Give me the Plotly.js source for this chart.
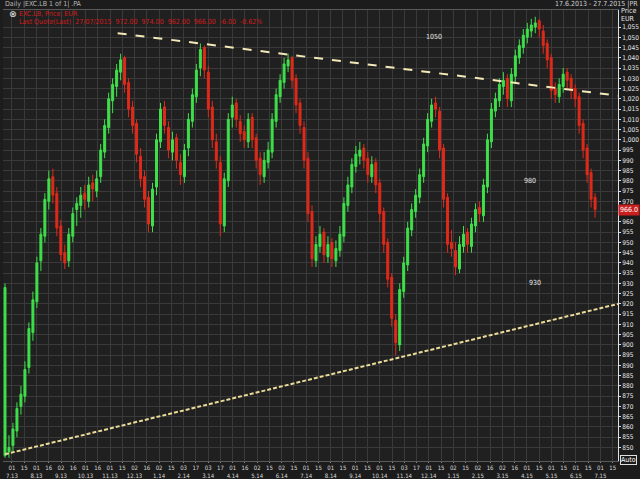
<!DOCTYPE html>
<html>
<head>
<meta charset="utf-8">
<script src="https://cdn.plot.ly/plotly-3.0.1.min.js"></script>
<style>html,body{margin:0;padding:0;background:#1d1d1d;}#chart{width:640px;height:479px;}</style>
</head>
<body>
<div id="chart"></div>
<script>
// OHLC values (EUR), one bar per period
const openP  = [846,848,851,858,870,875,889,906,921,941,953,970,982,974,958,945,941,953,966,968,974,970,979,975,982,994,1006,1019,1026,1033,1040,1028,1016,1008,992,982,972,958,977,999,1016,1006,994,1001,989,982,996,1009,1021,1035,1045,1033,1016,999,989,958,980,1011,1018,1009,1004,999,1011,1001,991,982,989,994,1009,1021,1028,1036,1040,1030,1018,1006,991,965,941,948,955,943,950,941,946,953,968,977,987,992,996,991,982,989,979,965,950,933,912,900,926,939,956,965,972,982,997,1009,1018,1014,996,972,950,946,937,948,955,948,958,967,963,977,999,1014,1019,1026,1030,1019,1031,1040,1045,1050,1053,1055,1058,1053,1047,1040,1025,1021,1026,1033,1030,1025,1021,1008,996,984,972];
const highP  = [930,856,862,872,880,892,911,926,943,957,974,985,986,977,961,949,957,967,972,977,978,982,983,985,998,1010,1023,1030,1037,1042,1041,1030,1019,1010,996,985,975,979,1003,1018,1019,1009,1004,1003,993,998,1013,1025,1037,1047,1046,1036,1019,1003,992,984,1013,1021,1020,1012,1007,1013,1013,1003,994,994,999,1013,1025,1032,1040,1042,1041,1032,1020,1009,994,968,953,958,957,953,952,951,958,972,982,991,997,999,998,994,992,991,981,967,952,935,915,930,943,960,969,976,986,1001,1013,1020,1021,1016,998,974,956,950,953,958,957,962,969,970,981,1003,1018,1023,1030,1033,1032,1035,1044,1049,1054,1057,1059,1060,1059,1056,1049,1042,1028,1030,1035,1035,1032,1027,1023,1010,998,986,974];
const lowP   = [845,845,848,855,866,872,886,902,918,936,950,966,969,953,941,937,938,950,958,962,966,967,970,972,979,991,1003,1013,1021,1029,1023,1011,1003,989,977,967,955,955,973,996,1003,991,990,986,978,979,992,1006,1018,1031,1030,1011,996,986,953,955,977,1006,1006,999,996,996,996,986,978,979,986,991,1006,1018,1025,1033,1025,1013,1003,986,960,938,938,945,940,940,938,938,943,950,965,974,984,988,986,979,979,974,960,945,928,909,895,897,923,936,953,962,969,979,994,1006,1011,991,967,945,943,934,935,945,945,945,955,960,960,974,996,1011,1016,1022,1016,1016,1028,1037,1042,1047,1050,1052,1050,1042,1035,1020,1018,1018,1023,1025,1020,1016,1003,991,979,967,962];
const closeP = [928,850,859,869,876,888,908,922,940,954,971,981,973,957,944,940,954,964,969,973,971,978,976,981,995,1007,1020,1027,1034,1039,1027,1015,1007,993,981,971,959,976,1000,1015,1007,995,1000,990,983,995,1010,1022,1034,1044,1034,1015,1000,990,959,981,1010,1017,1010,1003,1000,1010,1000,990,983,990,995,1010,1022,1029,1037,1039,1029,1017,1007,990,964,942,949,954,944,949,942,947,954,969,978,988,993,995,990,983,988,978,964,949,932,913,901,927,940,957,966,973,983,998,1010,1017,1015,995,971,949,947,938,949,954,949,959,966,964,978,1000,1015,1020,1027,1029,1020,1032,1041,1046,1051,1054,1056,1057,1054,1046,1039,1024,1022,1027,1032,1029,1024,1020,1007,995,983,971,966];

// trend lines (bar index, price)
const upperTrendX = [28.25, 153.75];
const upperTrendY = [1052, 1021.5];
const lowerTrendX = [0, 153.75];
const lowerTrendY = [846.7, 920];

// level labels written in the chart
const levelLabels = ['1050', '980', '930'];
const levelX = [107.5, 131.75, 133];
const levelY = [1050, 980, 930];

// x-axis labels
const monthLabels = ['7.13','8.13','9.13','10.13','11.13','12.13','1.14','2.14','3.14','4.14','5.14','6.14','7.14','8.14','9.14','10.14','11.14','12.14','1.15','2.15','3.15','4.15','5.15','6.15','7.15'];
const dayStart = ['01','01','02','01','01','02','02','03','03','01','02','02','01','01','01','01','03','01','02','02','02','01','01','01','01'];
const dayMid   = ['15','16','16','16','15','16','15','17','17','16','15','15','15','15','15','15','17','15','15','16','16','15','15','15','15'];

const lastPrice = 966;

const xIdx = closeP.map((_, i) => i);
const FONT = 'Liberation Sans Narrow, DejaVu Sans Condensed, Liberation Sans, Arial';

// build tick positions
const m0 = 1.75, mStep = 6.15;
const tickvals = [], ticktext = [];
monthLabels.forEach((m, k) => {
  tickvals.push(m0 + k * mStep);
  ticktext.push(dayStart[k] + '<br>' + m);
  tickvals.push(m0 + k * mStep + mStep / 2);
  ticktext.push(dayMid[k]);
});
const ytv = [];
for (let v = 850; v <= 1055; v += 5) ytv.push(v);
// the 965 label sits under the red last-price box
const ytt = ytv.map(v => v === 965 ? '' : (v >= 1000 ? (Math.floor(v/1000) + ',' + String(v % 1000).padStart(3,'0')) : String(v)));

const traces = [
  {
    type: 'candlestick', x: xIdx, open: openP, high: highP, low: lowP, close: closeP,
    increasing: {line: {color: '#3fe04b', width: 1}, fillcolor: '#3fe04b'},
    decreasing: {line: {color: '#e02a1a', width: 1}, fillcolor: '#e02a1a'},
    whiskerwidth: 0, showlegend: false, hoverinfo: 'skip'
  },
  {
    type: 'scatter', mode: 'lines', x: upperTrendX, y: upperTrendY,
    line: {color: '#f3e9b8', width: 2, dash: 'dash'}, showlegend: false, hoverinfo: 'skip'
  },
  {
    type: 'scatter', mode: 'lines', x: lowerTrendX, y: lowerTrendY,
    line: {color: '#eadb98', width: 2, dash: '4px,2px'}, showlegend: false, hoverinfo: 'skip'
  }
];

const annotations = levelLabels.map((t, i) => ({
  x: levelX[i], y: levelY[i], xref: 'x', yref: 'y', text: t, showarrow: false,
  font: {color: '#e6e6e6', size: 7, family: FONT}
}));
annotations.push(
  {xref: 'paper', yref: 'paper', x: 0, y: 1.013, xanchor: 'left', yanchor: 'middle', showarrow: false,
   text: 'Daily |EXC.LB 1 of 1| .PA', font: {color: '#b8b8b8', size: 7, family: FONT}},
  {xref: 'paper', yref: 'paper', x: 1.035, y: 1.013, xanchor: 'right', yanchor: 'middle', showarrow: false,
   text: '17.6.2013 - 27.7.2015 |PR', font: {color: '#d0d0d0', size: 7, family: FONT}},
  {xref: 'paper', yref: 'paper', x: 1.002, y: 0.998, xanchor: 'left', yanchor: 'middle', showarrow: false,
   text: 'Price', font: {color: '#e6e6e6', size: 7, family: FONT}},
  {xref: 'paper', yref: 'paper', x: 1.002, y: 0.980, xanchor: 'left', yanchor: 'middle', showarrow: false,
   text: 'EUR', font: {color: '#e6e6e6', size: 7, family: FONT}},
  {xref: 'paper', yref: 'y', x: 1.0, y: lastPrice, xanchor: 'left', yanchor: 'middle', showarrow: false,
   text: '966.0', bgcolor: '#c81e1e', borderpad: 1, font: {color: '#ffffff', size: 7, family: FONT}},
  {xref: 'paper', yref: 'paper', x: 1.003, y: 0.003, xanchor: 'left', yanchor: 'middle', showarrow: false,
   text: 'Auto', bordercolor: '#e0e0e0', borderwidth: 1, borderpad: 0, font: {color: '#ffffff', size: 7, family: FONT}},
  {xref: 'paper', yref: 'paper', x: 0.006, y: 0.991, xanchor: 'left', yanchor: 'middle', showarrow: false,
   text: '⊗', font: {color: '#e8e8e8', size: 9, family: 'DejaVu Sans'}},
  {xref: 'paper', yref: 'paper', x: 0.022, y: 0.991, xanchor: 'left', yanchor: 'middle', showarrow: false,
   text: 'EXC.LB, Price, EUR', font: {color: '#d01c1c', size: 7, family: FONT}},
  {xref: 'paper', yref: 'paper', x: 0.022, y: 0.973, xanchor: 'left', yanchor: 'middle', showarrow: false,
   text: 'Last Quote(Last)  27/07/2015  972.00  974.00  962.00  966.00  -6.00  -0.62%',
   font: {color: '#d01c1c', size: 7, family: FONT}}
);

const layout = {
  width: 640, height: 479,
  margin: {l: 3, r: 22, t: 10, b: 18, pad: 0},
  paper_bgcolor: '#1c1c1c', plot_bgcolor: '#202020',
  showlegend: false,
  xaxis: {
    range: [-0.5, 153.75], rangeslider: {visible: false}, fixedrange: true,
    tickmode: 'array', tickvals: tickvals, ticktext: ticktext, tickangle: 0,
    tickfont: {color: '#d8d8d8', size: 6, family: FONT},
    ticks: 'outside', ticklen: 1, tickcolor: '#888',
    showgrid: true, gridcolor: '#3a3a3a', gridwidth: 1,
    showline: true, linecolor: '#5a5a5a', mirror: true, zeroline: false
  },
  yaxis: {
    range: [843.4, 1063.3], side: 'right', fixedrange: true,
    tickmode: 'array', tickvals: ytv, ticktext: ytt,
    tickfont: {color: '#e6e6e6', size: 6.5, family: FONT},
    ticks: 'outside', ticklen: 2, tickcolor: '#e0e0e0',
    showgrid: true, gridcolor: '#3a3a3a', gridwidth: 1,
    showline: true, linecolor: '#e0e0e0', zeroline: false
  },
  annotations: annotations
};

Plotly.newPlot('chart', traces, layout, {staticPlot: true, displayModeBar: false});
</script>
</body>
</html>
